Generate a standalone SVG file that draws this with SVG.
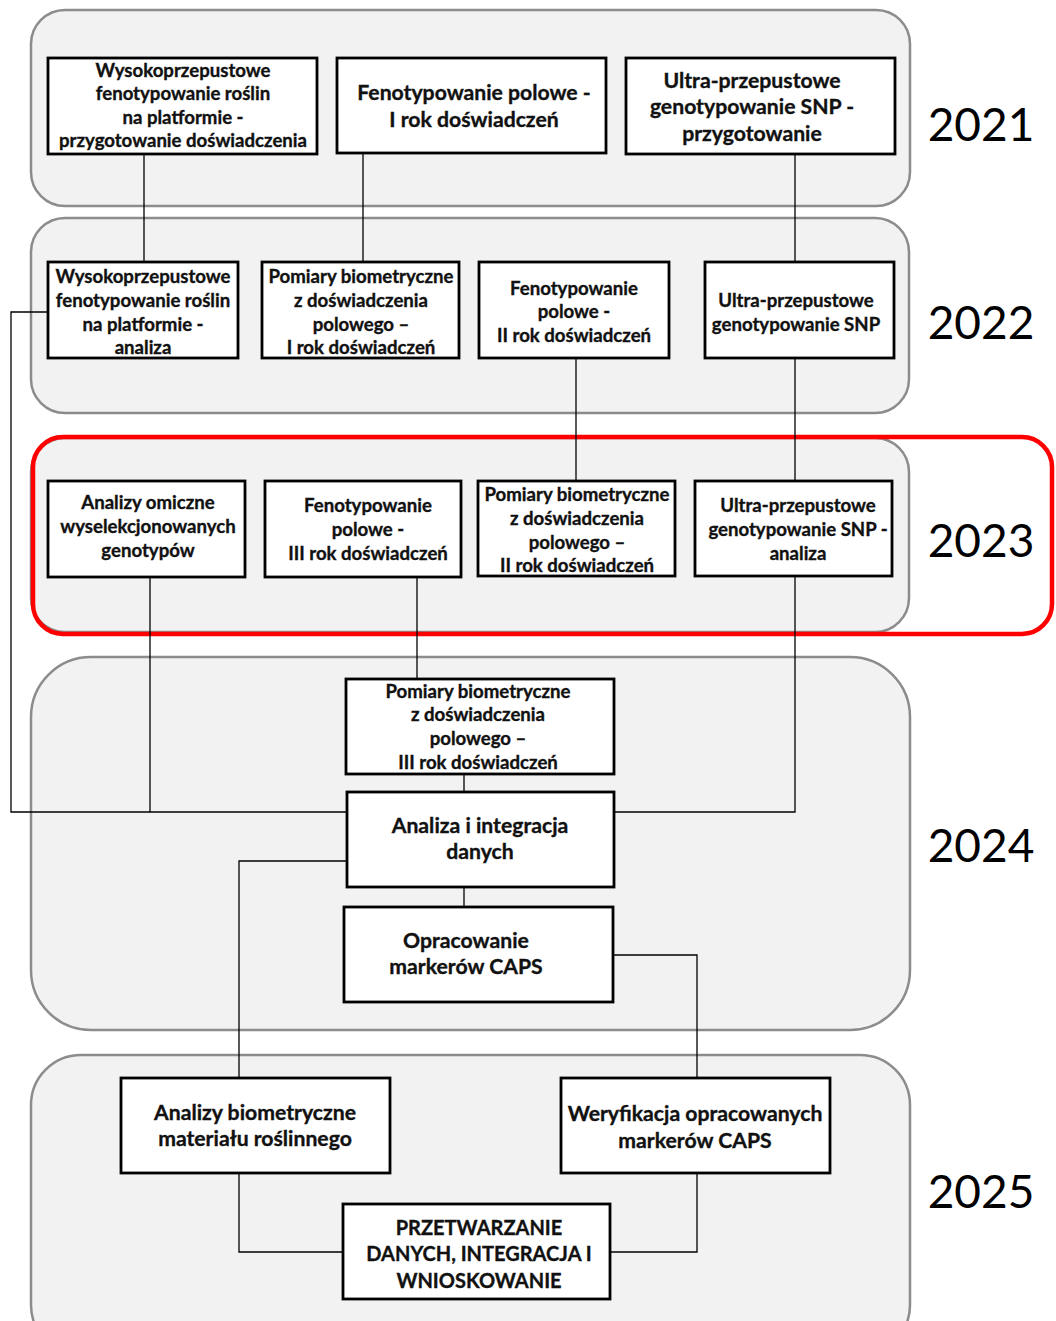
<svg xmlns="http://www.w3.org/2000/svg" width="1056" height="1321" viewBox="0 0 1056 1321">
<style>
.panel{fill:#f2f2f2;stroke:#8c8c8c;stroke-width:2.5}
.box{fill:#fff;stroke:#000;stroke-width:2.8}
.t{font-family:Lato,"Liberation Sans",sans-serif;font-weight:bold;fill:#111;stroke:#111;stroke-width:0.35;text-anchor:middle}
.s{font-size:18.6px}
.m{font-size:21.2px}
.u{font-size:20px}
.yr{font-family:Lato,"Liberation Sans",sans-serif;font-size:46px;fill:#000}
.c{fill:none;stroke:#000;stroke-width:1.3}
</style>
<rect width="1056" height="1321" fill="#fff"/>
<g id="panels">
<rect class="panel" x="31" y="10" width="879" height="196" rx="34"/>
<rect class="panel" x="31" y="218" width="878" height="195" rx="34"/>
<rect class="panel" x="31" y="438" width="878" height="194" rx="34"/>
<rect class="panel" x="31" y="657" width="879" height="373" rx="60"/>
<rect class="panel" x="31" y="1055" width="879" height="300" rx="50"/>
<rect x="33" y="437" width="1019" height="197" rx="30" fill="none" stroke="#f00" stroke-width="4.5"/>
</g>
<g id="years">
<text class="yr" x="981" y="141" text-anchor="middle">2021</text>
<text class="yr" x="981" y="339" text-anchor="middle">2022</text>
<text class="yr" x="981" y="557" text-anchor="middle">2023</text>
<text class="yr" x="981" y="862" text-anchor="middle">2024</text>
<text class="yr" x="981" y="1208" text-anchor="middle">2025</text>
</g>
<g id="connectors">
<path class="c" d="M144 154V262"/>
<path class="c" d="M363 153V262"/>
<path class="c" d="M795 154V262"/>
<path class="c" d="M576 358V481"/>
<path class="c" d="M795 358V481"/>
<path class="c" d="M48 312H11V812H347"/>
<path class="c" d="M150 577V812"/>
<path class="c" d="M417 577V679"/>
<path class="c" d="M795 576V812H614"/>
<path class="c" d="M464 774V792"/>
<path class="c" d="M464 887V907"/>
<path class="c" d="M347 861H239V1078"/>
<path class="c" d="M613 955H697V1078"/>
<path class="c" d="M239 1173V1252H343"/>
<path class="c" d="M697 1173V1252H610"/>
</g>
<g id="b1"><rect class="box" x="48" y="58" width="269" height="96"/>
<text class="t s"><tspan x="183" y="77">Wysokoprzepustowe</tspan><tspan x="183" y="100">fenotypowanie roślin</tspan><tspan x="183" y="124">na platformie -</tspan><tspan x="183" y="147">przygotowanie doświadczenia</tspan></text></g>
<g id="b2"><rect class="box" x="337" y="58" width="269" height="95"/>
<text class="t m"><tspan x="474" y="99.5">Fenotypowanie polowe -</tspan><tspan x="474" y="126.5">I rok doświadczeń</tspan></text></g>
<g id="b3"><rect class="box" x="626" y="58" width="269" height="96"/>
<text class="t m"><tspan x="752" y="87.5">Ultra-przepustowe</tspan><tspan x="752" y="113.5">genotypowanie SNP -</tspan><tspan x="752" y="140.5">przygotowanie</tspan></text></g>
<g id="c1"><rect class="box" x="48" y="262" width="190" height="96"/>
<text class="t s"><tspan x="143" y="283">Wysokoprzepustowe</tspan><tspan x="143" y="307">fenotypowanie roślin</tspan><tspan x="143" y="331">na platformie -</tspan><tspan x="143" y="354">analiza</tspan></text></g>
<g id="c2"><rect class="box" x="262" y="262" width="197" height="96"/>
<text class="t s"><tspan x="361" y="283">Pomiary biometryczne</tspan><tspan x="361" y="307">z doświadczenia</tspan><tspan x="361" y="331">polowego –</tspan><tspan x="361" y="354">I rok doświadczeń</tspan></text></g>
<g id="c3"><rect class="box" x="479" y="262" width="190" height="96"/>
<text class="t s"><tspan x="574" y="295">Fenotypowanie</tspan><tspan x="574" y="318">polowe -</tspan><tspan x="574" y="342">II rok doświadczeń</tspan></text></g>
<g id="c4"><rect class="box" x="705" y="262" width="189" height="96"/>
<text class="t s"><tspan x="796" y="307">Ultra-przepustowe</tspan><tspan x="796" y="331">genotypowanie SNP</tspan></text></g>
<g id="d1"><rect class="box" x="48" y="481" width="197" height="96"/>
<text class="t s"><tspan x="148" y="509">Analizy omiczne</tspan><tspan x="148" y="533">wyselekcjonowanych</tspan><tspan x="148" y="557">genotypów</tspan></text></g>
<g id="d2"><rect class="box" x="265" y="481" width="196" height="96"/>
<text class="t s"><tspan x="368" y="512">Fenotypowanie</tspan><tspan x="368" y="536">polowe -</tspan><tspan x="368" y="560">III rok doświadczeń</tspan></text></g>
<g id="d3"><rect class="box" x="478" y="481" width="197" height="95"/>
<text class="t s"><tspan x="577" y="501">Pomiary biometryczne</tspan><tspan x="577" y="525">z doświadczenia</tspan><tspan x="577" y="549">polowego –</tspan><tspan x="577" y="572">II rok doświadczeń</tspan></text></g>
<g id="d4"><rect class="box" x="695" y="481" width="197" height="95"/>
<text class="t s"><tspan x="798" y="512">Ultra-przepustowe</tspan><tspan x="798" y="536">genotypowanie SNP -</tspan><tspan x="798" y="560">analiza</tspan></text></g>
<g id="e1"><rect class="box" x="346" y="679" width="268" height="95"/>
<text class="t s"><tspan x="478" y="698">Pomiary biometryczne</tspan><tspan x="478" y="721">z doświadczenia</tspan><tspan x="478" y="745">polowego –</tspan><tspan x="478" y="769">III rok doświadczeń</tspan></text></g>
<g id="e2"><rect class="box" x="347" y="792" width="267" height="95"/>
<text class="t m"><tspan x="480" y="832.5">Analiza i integracja</tspan><tspan x="480" y="858.5">danych</tspan></text></g>
<g id="e3"><rect class="box" x="344" y="907" width="269" height="95"/>
<text class="t m"><tspan x="466" y="947.5">Opracowanie</tspan><tspan x="466" y="973.5">markerów CAPS</tspan></text></g>
<g id="f1"><rect class="box" x="121" y="1078" width="269" height="95"/>
<text class="t m"><tspan x="255" y="1119.5">Analizy biometryczne</tspan><tspan x="255" y="1145.5">materiału roślinnego</tspan></text></g>
<g id="f2"><rect class="box" x="561" y="1078" width="269" height="95"/>
<text class="t m"><tspan x="695" y="1120.5">Weryfikacja opracowanych</tspan><tspan x="695" y="1147.5">markerów CAPS</tspan></text></g>
<g id="f3"><rect class="box" x="343" y="1204" width="267" height="95"/>
<text class="t u"><tspan x="479" y="1235">PRZETWARZANIE</tspan><tspan x="479" y="1261">DANYCH, INTEGRACJA I</tspan><tspan x="479" y="1288">WNIOSKOWANIE</tspan></text></g>
</svg>
